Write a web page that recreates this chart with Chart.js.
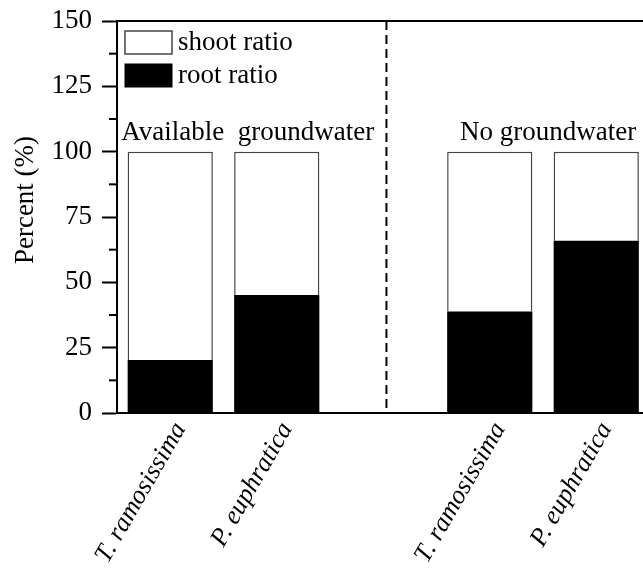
<!DOCTYPE html>
<html>
<head>
<meta charset="utf-8">
<script src="https://cdn.jsdelivr.net/npm/chart.js@4/dist/chart.umd.min.js"></script>
<style>
  html, body { margin: 0; padding: 0; background: #fff; overflow: hidden; }
  #wrap { width: 660px; height: 568px; }
</style>
</head>
<body>
<div id="wrap"><canvas id="chart"></canvas></div>
<script>
const species = ["T. ramosissima", "P. euphratica", "", "T. ramosissima", "P. euphratica"]
const rootRatio = [20.3, 45.2, null, 38.8, 65.9]
const shootRatio = [79.7, 54.8, null, 61.2, 34.1]
const yTicks = [0, 25, 50, 75, 100, 125, 150]
const minorTicks = [12.5, 37.5, 62.5, 87.5, 112.5, 137.5]
const groupNames = ["Available  groundwater", "No groundwater"]
const groupNameX = [-0.46, 2.72]
const groupNameY = 107
const dividerAt = 2.03

const serif = "'Liberation Serif', 'Times New Roman', serif"

const frame = {
    id: "frame",
    afterDatasetsDraw(chart) {
        const {ctx, chartArea, scales: {x, y}} = chart
        ctx.save()
        ctx.strokeStyle = "#000"
        ctx.lineWidth = 2

        // top border
        ctx.beginPath()
        ctx.moveTo(chartArea.left, chartArea.top)
        ctx.lineTo(chartArea.right, chartArea.top)
        ctx.stroke()

        // minor ticks
        minorTicks.forEach(v => {
            const py = y.getPixelForValue(v)
            ctx.beginPath()
            ctx.moveTo(chartArea.left - 8, py)
            ctx.lineTo(chartArea.left, py)
            ctx.stroke()
        })

        // divider between groups
        const dx = x.getPixelForValue(dividerAt)
        ctx.setLineDash([9, 5])
        ctx.beginPath()
        ctx.moveTo(dx, chartArea.top)
        ctx.lineTo(dx, chartArea.bottom)
        ctx.stroke()
        ctx.setLineDash([])

        // group names
        ctx.fillStyle = "#000"
        ctx.font = "27px " + serif
        ctx.textAlign = "left"
        ctx.textBaseline = "middle"
        groupNames.forEach((name, i) => {
            ctx.fillText(name, x.getPixelForValue(groupNameX[i]), y.getPixelForValue(groupNameY))
        })

        // legend inside the plot, shoot first
        const items = chart.data.datasets.slice().reverse()
        items.forEach((ds, i) => {
            const bx = chartArea.left + 8
            const by = chartArea.top + 10 + i * 33
            ctx.fillStyle = ds.backgroundColor
            ctx.fillRect(bx, by, 47, 23)
            ctx.lineWidth = ds.borderWidth || 1
            ctx.strokeStyle = ds.borderColor
            ctx.strokeRect(bx, by, 47, 23)
            ctx.fillStyle = "#000"
            ctx.fillText(ds.label, bx + 53, by + 12)
        })

        // y axis title, sits a bit above the middle of the axis
        ctx.translate(26, (chartArea.top + chartArea.bottom) / 2 - 17)
        ctx.rotate(-Math.PI / 2)
        ctx.textAlign = "center"
        ctx.fillText("Percent (%)", 0, 0)
        ctx.restore()
    }
}

new Chart(document.getElementById("chart"), {
    type: "bar",
    data: {
        labels: species,
        datasets: [{
            label: "root ratio",
            data: rootRatio,
            backgroundColor: "#000",
            borderColor: "#000",
            borderWidth: 0
        }, {
            label: "shoot ratio",
            data: shootRatio,
            backgroundColor: "#fff",
            borderColor: "#444",
            borderWidth: 1.5
        }]
    },
    options: {
        responsive: true,
        maintainAspectRatio: false,
        animation: false,
        barPercentage: 0.8,
        categoryPercentage: 1,
        layout: { padding: { top: 21, right: 10.5, left: 0, bottom: 0 } },
        scales: {
            x: {
                stacked: true,
                grid: { display: false, drawTicks: false },
                border: { display: true, color: "#000", width: 2 },
                ticks: {
                    color: "#000",
                    font: { family: serif, size: 26, style: "italic" },
                    minRotation: 60,
                    maxRotation: 60,
                    padding: 4,
                    labelOffset: 10,
                    autoSkip: false
                },
                afterFit: s => { s.height = 155; s.paddingLeft = 0; s.paddingRight = 0 }
            },
            y: {
                stacked: true,
                min: 0,
                max: 150,
                afterBuildTicks: s => { s.ticks = yTicks.map(v => ({ value: v })) },
                grid: { drawOnChartArea: false, drawTicks: true, tickLength: 15, tickWidth: 2, tickColor: "#000" },
                border: { display: true, color: "#000", width: 2 },
                ticks: {
                    color: "#000",
                    font: { family: serif, size: 27 },
                    padding: 10
                },
                afterFit: s => { s.width = 117; s.paddingTop = 0; s.paddingBottom = 0 }
            }
        },
        plugins: {
            tooltip: { enabled: false },
            legend: { display: false }
        }
    },
    plugins: [frame]
})
</script>
</body>
</html>
